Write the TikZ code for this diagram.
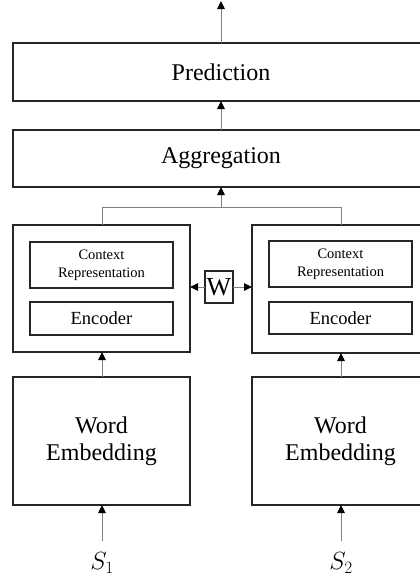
\documentclass[tikz,border=0pt]{standalone}
\usepackage{fontspec}
\setmainfont{Liberation Serif}
\usetikzlibrary{arrows.meta}
\begin{document}
\begin{tikzpicture}[x=1pt,y=-1pt,
  box/.style={draw=black!85, line width=1.4pt, inner sep=0pt, outer sep=0pt, align=center},
  conn/.style={draw=black!50, line width=0.9pt, -{Triangle[length=8pt,width=7.5pt,color=black]}},
  big/.style={font=\fontsize{24}{27}\selectfont},
  mid/.style={font=\fontsize{18.5}{21}\selectfont},
  small/.style={font=\fontsize{14.5}{17.5}\selectfont}]
\useasboundingbox (0,0) rectangle (420,582);
\clip (0,0) rectangle (420,582);
% top boxes
\node[box,big,minimum width=416pt,minimum height=58pt] (pred) at (221,72) {Prediction};
\node[box,big,minimum width=416pt,minimum height=57pt] (agg) at (221,158.5) {Aggregation};
% encoders
\node[box,minimum width=177pt,minimum height=127pt] (lout) at (101.5,288.5) {};
\node[box,minimum width=177pt,minimum height=128pt] (rout) at (340.5,289) {};
\node[box,small,minimum width=143pt,minimum height=46pt] (lctx) at (101.5,265) {Context\\Representation};
\node[box,mid,minimum width=143pt,minimum height=33pt] (lenc) at (101.5,318.5) {Encoder};
\node[box,small,minimum width=143pt,minimum height=46pt] (rctx) at (340.5,264) {Context\\Representation};
\node[box,mid,minimum width=143pt,minimum height=32pt] (renc) at (340.5,318) {Encoder};
\node[box,font=\fontsize{26}{28}\selectfont,minimum width=28pt,minimum height=32pt,line width=1.1pt] (w) at (219,287) {W};
% word embeddings
\node[box,big,minimum width=177pt,minimum height=128pt] (lwe) at (101.5,441) {Word\\Embedding};
\node[box,big,minimum width=177pt,minimum height=128pt] (rwe) at (340.5,441) {Word\\Embedding};
% inputs
\node[inner sep=0pt,font=\fontsize{24}{26}\selectfont] (s1) at (102,563) {$S_1$};
\node[inner sep=0pt,font=\fontsize{24}{26}\selectfont] (s2) at (341,563) {$S_2$};
\coordinate (top) at (221,1);
\coordinate (jl) at (102,207);
\coordinate (jr) at (341,207);
\coordinate (jm) at (221,207);
% connectors
\draw[conn] (pred.north) -- (top);
\draw[conn] (agg.north) -- (pred.south);
\draw[draw=black!50, line width=0.9pt] (lout.north -| jl) -- (jl) -- (jr) -- (rout.north -| jr);
\draw[conn] (jm) -- (agg.south);
\draw[conn] (w.west) -- (lout.east |- w.west);
\draw[conn] (w.east) -- (rout.west |- w.east);
\draw[conn] (lwe.north -| jl) -- (lout.south -| jl);
\draw[conn] (rwe.north -| jr) -- (rout.south -| jr);
\draw[conn] ([yshift=-5pt]s1.north) ++(0,-16) coordinate (s1t) -- (lwe.south -| s1t);
\draw[conn] ([yshift=-5pt]s2.north) ++(0,-16) coordinate (s2t) -- (rwe.south -| s2t);
\end{tikzpicture}
\end{document}
